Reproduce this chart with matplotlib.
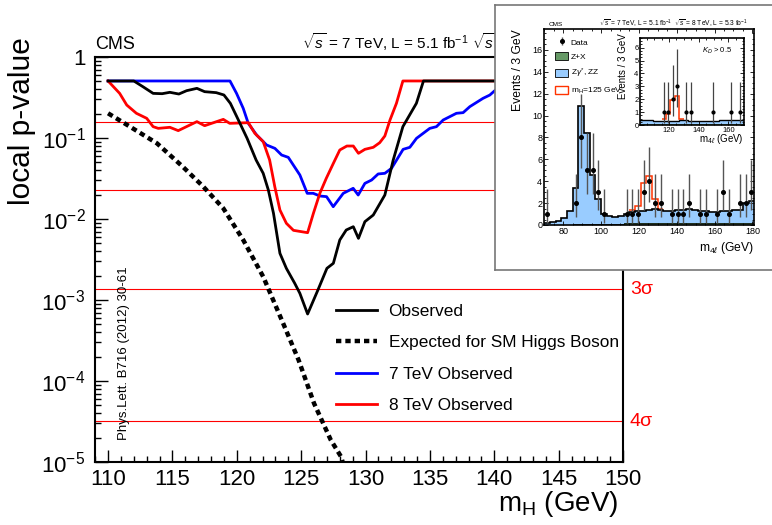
import numpy as np
import matplotlib
matplotlib.use("Agg")
import matplotlib.pyplot as plt
import matplotlib.ticker as ticker
from matplotlib.patches import Patch

plt.rcParams.update({
    "font.family": ["Liberation Sans", "DejaVu Sans"],
    "mathtext.fontset": "custom",
    "mathtext.rm": "Liberation Sans",
    "mathtext.it": "Liberation Sans:italic",
    "mathtext.bf": "Liberation Sans:bold",
    "mathtext.sf": "Liberation Sans",
})

W, H = 772, 525

# ── main panel: local p-value vs m_H (values stored as log10 p) ──
obs_mass = [110.0, 112.0, 112.7, 113.5, 114.2, 114.8, 115.5, 116.1, 116.9, 117.5, 118.4, 119.0, 119.5,
            120.0, 120.8, 121.5, 122.05, 122.45, 122.85, 123.35, 123.85, 124.5, 124.9, 125.5, 126.3,
            127.0, 127.5, 128.0, 128.5, 129.05, 129.45, 129.95, 130.6, 131.5, 132.15, 132.9, 133.95,
            134.5, 145.0]
obs_log10p = [-0.296, -0.296, -0.366, -0.449, -0.453, -0.436, -0.457, -0.416, -0.387, -0.428, -0.440,
              -0.469, -0.572, -0.737, -1.004, -1.272, -1.436, -1.642, -1.930, -2.424, -2.609, -2.794,
              -2.918, -3.173, -2.877, -2.609, -2.547, -2.259, -2.136, -2.095, -2.239, -2.033, -1.951,
              -1.704, -1.272, -0.860, -0.572, -0.296, -0.296]

exp_mass = [110.0, 111.7, 113.8, 115.8, 117.4, 118.95, 120.5, 122.05, 123.6, 124.8, 126.0, 127.3, 128.1, 128.6]
exp_log10p = [-0.695, -0.860, -1.066, -1.354, -1.601, -1.868, -2.259, -2.712, -3.288, -3.741, -4.276,
              -4.728, -4.935, -5.2]

tev7_mass = [110.0, 119.47, 119.98, 120.5, 120.89, 121.54, 122.31, 122.96, 123.48, 124.0, 124.9, 125.47,
             125.94, 126.45, 126.97, 127.49, 128.27, 129.04, 129.43, 129.95, 130.47, 130.98, 131.5,
             132.02, 132.92, 133.44, 133.96, 134.99, 135.51, 136.03, 137.06, 137.58, 138.1, 139.13,
             139.65, 140.9, 145.0]
tev7_log10p = [-0.296, -0.296, -0.449, -0.634, -0.819, -0.963, -1.086, -1.128, -1.210, -1.239, -1.457,
               -1.683, -1.683, -1.716, -1.724, -1.848, -1.683, -1.621, -1.704, -1.560, -1.519, -1.444,
               -1.436, -1.374, -1.140, -1.115, -1.004, -0.881, -0.860, -0.778, -0.695, -0.687, -0.613,
               -0.510, -0.470, -0.296, -0.296]

tev8_mass = [110.0, 110.9, 111.45, 112.2, 113.0, 113.5, 113.9, 114.8, 115.45, 116.9, 117.5, 118.95,
             119.45, 120.9, 121.4, 122.05, 122.55, 122.95, 123.35, 123.85, 124.4, 125.5, 125.95, 126.45,
             126.95, 127.5, 128.0, 128.55, 129.05, 129.45, 129.95, 130.6, 131.1, 131.5, 131.9, 132.4,
             132.9, 145.0]
tev8_log10p = [-0.296, -0.449, -0.593, -0.695, -0.757, -0.860, -0.881, -0.868, -0.909, -0.798, -0.848,
               -0.770, -0.819, -0.811, -0.942, -1.045, -1.272, -1.601, -1.889, -2.053, -2.140, -2.169,
               -1.930, -1.683, -1.498, -1.313, -1.148, -1.099, -1.099, -1.189, -1.140, -1.115, -1.058,
               -0.975, -0.778, -0.572, -0.296, -0.296]

sigma_p = [1.587e-1, 2.275e-2, 1.35e-3, 3.17e-5]
sigma_labels = ["1σ", "2σ", "3σ", "4σ"]

mass_ticks = [110, 115, 120, 125, 130, 135, 140, 145, 150]
pval_ticks = [1e-5, 1e-4, 1e-3, 1e-2, 1e-1, 1]
pval_labels = ["10$^{-5}$", "10$^{-4}$", "10$^{-3}$", "10$^{-2}$", "10$^{-1}$", "1"]

# ── inset: m4l distribution, 3 GeV bins from 70 GeV ──
hist_edges = np.arange(70, 184, 3)
bkg_total = [0.15, 0.25, 0.4, 0.6, 1.3, 3.4, 10.9, 8.4, 4.6, 2.4, 1.0, 0.8, 0.75, 0.85, 1.05, 1.15, 1.25,
             1.3, 1.35, 1.45, 1.35, 1.3, 1.3, 1.35, 1.4, 1.45, 1.35, 1.3, 1.25, 1.2, 1.2, 1.25, 1.3, 1.35,
             1.4, 2.0, 2.15]
bkg_zx = [0.02, 0.02, 0.03, 0.03, 0.04, 0.05, 0.06, 0.07, 0.08, 0.09, 0.1, 0.11, 0.12, 0.13, 0.14, 0.15,
          0.16, 0.17, 0.17, 0.18, 0.18, 0.18, 0.18, 0.18, 0.18, 0.18, 0.17, 0.17, 0.17, 0.16, 0.16, 0.16,
          0.15, 0.15, 0.15, 0.14, 0.14]
sig_125 = [0, 0, 0, 0, 0, 0, 0, 0, 0, 0, 0, 0, 0, 0, 0, 0.2, 0.45, 2.5, 3.1, 0.95, 0.15, 0, 0, 0, 0, 0,
           0, 0, 0, 0, 0, 0, 0, 0, 0, 0, 0]
data_m = [71.5, 86.5, 89.5, 92.5, 95.5, 98.5, 101.5, 113.5, 116.5, 119.5, 122.5, 125.5, 128.5, 131.5,
          137.5, 140.5, 143.5, 146.5, 152.5, 155.5, 161.5, 164.5, 167.5, 173.5, 176.5, 179.5]
data_n = [1, 2, 8, 5, 5, 3, 1, 1, 1, 1, 3, 4, 2, 2, 1, 1, 1, 2, 1, 1, 1, 3, 1, 2, 2, 3]
data_lo = [0.83, 1.29, 2.77, 2.16, 2.16, 1.63, 0.83, 0.83, 0.83, 0.83, 1.63, 1.91, 1.29, 1.29, 0.83,
           0.83, 0.83, 1.29, 0.83, 0.83, 0.83, 1.63, 0.83, 1.29, 1.29, 1.63]
data_hi = [2.3, 2.64, 3.95, 3.38, 3.38, 2.92, 2.3, 2.3, 2.3, 2.3, 2.92, 3.16, 2.64, 2.64, 2.3, 2.3, 2.3,
           2.64, 2.3, 2.3, 2.3, 2.92, 2.3, 2.64, 2.64, 2.92]

# ── inner inset: K_D > 0.5 ──
kd_edges = np.arange(97, 175, 3)
kd_bkg = [0.42, 0.40, 0.37, 0.35, 0.34, 0.33, 0.33, 0.33, 0.34, 0.34, 0.35, 0.35, 0.34, 0.34, 0.33,
          0.33, 0.33, 0.34, 0.34, 0.35, 0.36, 0.37, 0.38, 0.40, 0.42]
kd_zx = [0.04] * 25
kd_sig = [0, 0, 0, 0, 0, 0, 0.12, 0.52, 1.61, 1.91, 0.15, 0, 0, 0, 0, 0, 0, 0, 0, 0, 0, 0, 0, 0, 0]
kd_data_m = [116.5, 119.5, 122.5, 125.5, 131.5, 134.5, 149.5, 161.5, 167.5]
kd_data_n = [1, 1, 2, 3, 1, 1, 1, 1, 1]
kd_data_lo = [0.83, 0.83, 1.29, 1.63, 0.83, 0.83, 0.83, 0.83, 0.83]
kd_data_hi = [2.3, 2.3, 2.64, 2.92, 2.3, 2.3, 2.3, 2.3, 2.3]

C_ZX, C_ZZ, C_SIG = "#669966", "#99ccff", "#ff3300"


def fig_rect(x0, y0, x1, y1):
    return [x0 / W, 1 - y1 / H, (x1 - x0) / W, (y1 - y0) / H]


fig = plt.figure(figsize=(W / 100, H / 100), dpi=100)

# ── main axes ──
ax = fig.add_axes(fig_rect(95.2, 57, 623, 462))
ax.set_zorder(1)
for p in sigma_p:
    ax.axhline(p, color="#ff0000", lw=0.8, zorder=1)
l_obs, = ax.plot(obs_mass, 10 ** np.array(obs_log10p), color="k", lw=2, zorder=4, label="Observed")
l_exp, = ax.plot(exp_mass, 10 ** np.array(exp_log10p), color="k", lw=3.2, ls=(0, (1.2, 0.9)), zorder=3,
                 label="Expected for SM Higgs Boson")
l_7, = ax.plot(tev7_mass, 10 ** np.array(tev7_log10p), color="#0000ff", lw=2, zorder=3, label="7 TeV Observed")
l_8, = ax.plot(tev8_mass, 10 ** np.array(tev8_log10p), color="#ff0000", lw=2, zorder=3, label="8 TeV Observed")

ax.set_yscale("log")
ax.set_xlim(109, 150)
ax.set_ylim(1e-5, 1)
ax.set_yticks(pval_ticks)
ax.set_yticklabels(pval_labels)
ax.yaxis.set_minor_locator(ticker.LogLocator(base=10, subs=np.arange(2, 10)))
ax.yaxis.set_minor_formatter(ticker.NullFormatter())
ax.set_xticks(mass_ticks)
ax.xaxis.set_minor_locator(ticker.MultipleLocator(1))
ax.tick_params(which="both", direction="in", top=False, right=False, width=1)
ax.tick_params(which="major", length=9, labelsize=16)
ax.tick_params(which="minor", length=4.5)
ax.tick_params(axis="x", pad=5)
ax.tick_params(axis="y", pad=7)
for s in ax.spines.values():
    s.set_linewidth(1.5)

for p, lab in zip(sigma_p, sigma_labels):
    ax.text(1.013, p, lab, transform=ax.get_yaxis_transform(), color="#ff0000", fontsize=14,
            ha="left", va="center", clip_on=False)

ax.legend(handles=[l_obs, l_exp, l_7, l_8], loc="upper left", bbox_to_anchor=(336 / W, 1 - 304 / H),
          bbox_transform=fig.transFigure, frameon=False, fontsize=12.4, handlelength=2.4,
          handletextpad=0.65, labelspacing=0.95, borderpad=0, borderaxespad=0)

ax.text(95 / W, 1 - 49 / H, "CMS", transform=fig.transFigure, fontsize=13, va="baseline", clip_on=False)
ax.text(302 / W, 1 - 49 / H, r"$\sqrt{s}$ = 7 TeV, L = 5.1 fb$^{-1}$", transform=fig.transFigure,
        fontsize=11, va="baseline", clip_on=False)
ax.text(472 / W, 1 - 49 / H, r"$\sqrt{s}$ = 8 TeV, L = 5.3 fb$^{-1}$", transform=fig.transFigure,
        fontsize=11, va="baseline", clip_on=False)
ax.text(124 / W, 1 - 353 / H, "Phys.Lett. B716 (2012) 30-61", transform=fig.transFigure, rotation=90,
        fontsize=9.5, ha="center", va="center", clip_on=False)

fig.text(22 / W, 1 - 37 / H, "local p-value", rotation=90, ha="center", va="top", fontsize=21.5)
fig.text(618 / W, 1 - 489 / H, r"m$_\mathrm{H}$ (GeV)", ha="right", va="top", fontsize=20)

# ── inset frame ──
frame = fig.add_axes(fig_rect(495, 5, 790, 270))
frame.set_zorder(5)
frame.set_xticks([])
frame.set_yticks([])
for s in frame.spines.values():
    s.set_color("#777777")
    s.set_linewidth(1.2)


def style_hist_axes(a, labelsize):
    a.tick_params(which="both", direction="in", top=True, right=True, width=0.6,
                  labelsize=labelsize, pad=1.5)
    a.tick_params(which="major", length=3)
    a.tick_params(which="minor", length=1.5)
    for s in a.spines.values():
        s.set_linewidth(1.2)


# ── m4l histogram ──
hx = fig.add_axes(fig_rect(544.3, 29, 754.3, 225))
hx.set_zorder(6)
zz_top = np.array(bkg_total)
zx_top = np.array(bkg_zx)
with_sig = zz_top + np.array(sig_125)
hx.stairs(zx_top, hist_edges, fill=True, color=C_ZX, lw=0)
hx.stairs(zz_top, hist_edges, baseline=zx_top, fill=True, color=C_ZZ, lw=0)
hx.stairs(zx_top, hist_edges, baseline=None, color="k", lw=0.5)
sig_idx = np.nonzero(sig_125)[0]
i0, i1 = sig_idx[0], sig_idx[-1] + 1
hx.stairs(with_sig[i0:i1], hist_edges[i0:i1 + 1], baseline=None, color=C_SIG, lw=1.1)
hx.stairs(zz_top, hist_edges, baseline=None, color="k", lw=1.2)
d_h = hx.errorbar(data_m, data_n, yerr=[data_lo, data_hi], fmt="o", ms=2.6, color="k",
                  ecolor="#555555", elinewidth=1.0, capsize=0, zorder=5)
hx.set_xlim(70, 181)
hx.set_ylim(0, 17.9)
hx.xaxis.set_major_locator(ticker.MultipleLocator(20))
hx.xaxis.set_minor_locator(ticker.MultipleLocator(5))
hx.yaxis.set_major_locator(ticker.MultipleLocator(2))
hx.yaxis.set_minor_locator(ticker.MultipleLocator(0.5))
style_hist_axes(hx, 6.5)
hx.set_ylabel("Events / 3 GeV", fontsize=8.7, loc="top")
hx.yaxis.set_label_coords(-0.095, 1.0)
hx.set_xlabel(r"m$_{4\ell}$ (GeV)", fontsize=8.7, loc="right")
hx.xaxis.set_label_coords(1.0, -0.075)
hx.text(0.02, 1.025, "CMS", transform=hx.transAxes, fontsize=4.6, va="center", ha="left")
hx.text(0.97, 1.025, r"$\sqrt{s}$ = 7 TeV, L = 5.1 fb$^{-1}$  $\sqrt{s}$ = 8 TeV, L = 5.3 fb$^{-1}$",
        transform=hx.transAxes, fontsize=4.8, va="center", ha="right")
hx.legend(handles=[d_h, Patch(facecolor=C_ZX, edgecolor="k", lw=0.6),
                   Patch(facecolor=C_ZZ, edgecolor="k", lw=0.6),
                   Patch(facecolor="white", edgecolor=C_SIG, lw=1.0)],
          labels=["Data", "Z+X", r"Z$\gamma^{*}$, ZZ", r"m$_\mathrm{H}$=125 GeV"],
          loc="upper left", bbox_to_anchor=(555 / W, 1 - 38 / H), bbox_transform=fig.transFigure,
          frameon=False, fontsize=6.0, handlelength=1.6, handleheight=1.0, handletextpad=0.3,
          labelspacing=0.7, borderpad=0, borderaxespad=0)

# ── K_D > 0.5 sub-inset ──
kx = fig.add_axes(fig_rect(640, 38, 744, 125))
kx.set_zorder(7)
kd_zz = np.array(kd_bkg)
kd_zxa = np.array(kd_zx)
kd_with = kd_zz + np.array(kd_sig)
kx.stairs(kd_zxa, kd_edges, fill=True, color=C_ZX, lw=0)
kx.stairs(kd_zz, kd_edges, baseline=kd_zxa, fill=True, color=C_ZZ, lw=0)
k_idx = np.nonzero(kd_sig)[0]
k0, k1 = k_idx[0], k_idx[-1] + 1
kx.stairs(kd_with[k0:k1], kd_edges[k0:k1 + 1], baseline=None, color=C_SIG, lw=1.1)
kx.stairs(kd_zz, kd_edges, baseline=None, color="k", lw=1.0)
kx.errorbar(kd_data_m, kd_data_n, yerr=[kd_data_lo, kd_data_hi], fmt="o", ms=2.0, color="k",
            ecolor="#444444", elinewidth=0.9, capsize=0, zorder=5)
kx.set_xlim(100.5, 170.5)
kx.set_ylim(0, 6.75)
kx.xaxis.set_major_locator(ticker.MultipleLocator(20))
kx.xaxis.set_minor_locator(ticker.MultipleLocator(5))
kx.yaxis.set_major_locator(ticker.MultipleLocator(1))
kx.yaxis.set_minor_locator(ticker.MultipleLocator(0.25))
style_hist_axes(kx, 5.5)
kx.tick_params(axis="y", pad=1)
kx.set_ylabel("Events / 3 GeV", fontsize=7, loc="top")
kx.yaxis.set_label_coords(-0.12, 1.06)
kx.set_xlabel(r"m$_{4\ell}$ (GeV)", fontsize=7, loc="right")
kx.xaxis.set_label_coords(1.0, -0.08)
kx.text(0.6, 0.85, r"$K_D$ > 0.5", transform=kx.transAxes, fontsize=5.5, va="center", ha="left")

fig.savefig("out.png", dpi=100)
